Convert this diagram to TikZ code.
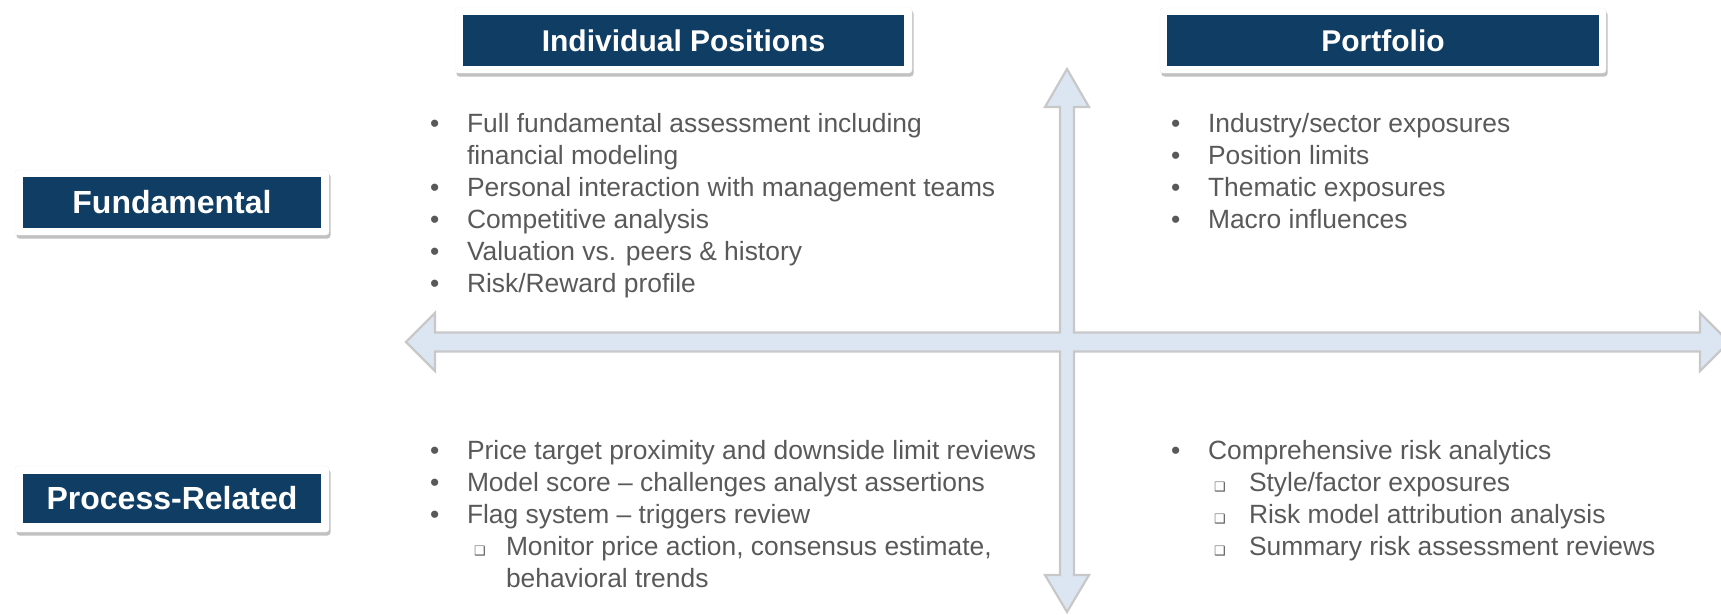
\documentclass[tikz,border=0pt]{standalone}
\usepackage{fontspec}
\setmainfont{Liberation Sans}
\newfontfamily\djv{DejaVu Sans}
\usetikzlibrary{shadows}
\definecolor{hdr}{HTML}{0F3D63}
\definecolor{txt}{HTML}{595959}
\definecolor{arrfill}{HTML}{DCE6F2}
\definecolor{arrline}{HTML}{C8C8C8}
\begin{document}
\begin{tikzpicture}[x=1pt,y=-1pt,
  frame/.style={rectangle, fill=white, draw=black!6, rounded corners=3pt, inner sep=0pt, outer sep=0pt,
    drop shadow={shadow xshift=1.5pt, shadow yshift=-3.5pt, opacity=0.35, fill=black!70}},
  hdrbox/.style={rectangle, fill=hdr, text=white, inner sep=0pt, outer sep=0pt, font=\fontsize{30}{36}\selectfont\bfseries},
  sidebox/.style={hdrbox, font=\fontsize{32}{38}\selectfont\bfseries},
  line/.style={anchor=base west, inner sep=0pt, outer sep=0pt, text=txt, font=\fontsize{26.4}{32}\selectfont},
  bul/.style={line},
  sq/.style={anchor=base west, inner sep=0pt, outer sep=0pt, text=txt, font=\djv\fontsize{13}{14}\selectfont},
  cross/.style={fill=arrfill, draw=arrline, line width=2.2pt, line join=miter}
]
\useasboundingbox (0,0) rectangle (1721,614);

% cross arrows
\draw[cross] (406,342) -- (435,313) -- (435,332.5) -- (1060,332.5) -- (1060,107) -- (1045,107) -- (1067,69)
  -- (1089,107) -- (1074,107) -- (1074,332.5) -- (1700,332.5) -- (1700,313) -- (1729,342) -- (1700,371)
  -- (1700,351.5) -- (1074,351.5) -- (1074,575) -- (1089,575) -- (1067,612) -- (1045,575) -- (1060,575)
  -- (1060,351.5) -- (435,351.5) -- (435,371) -- cycle;

% header boxes
\node[frame, minimum width=457pt, minimum height=66pt] (ipf) at (683.5,40) {};
\node[hdrbox, minimum width=441pt, minimum height=51pt] (ip) at (683.5,40.5) {Individual Positions};
\node[frame, minimum width=446pt, minimum height=65pt] (pff) at (1383,40.5) {};
\node[hdrbox, minimum width=432pt, minimum height=51pt] (pf) at (1383,40.5) {Portfolio};
\node[frame, minimum width=314pt, minimum height=65pt] (fuf) at (172,202.5) {};
\node[sidebox, minimum width=298pt, minimum height=51pt] (fu) at (172,202.5) {Fundamental};
\node[frame, minimum width=314pt, minimum height=66pt] (prf) at (172,499) {};
\node[sidebox, minimum width=298pt, minimum height=49pt] (pr) at (172,498.5) {Process-Related};

% top-left
\node[bul] (b11) at (430,132) {•};
\node[line] (t11) at (467,132) {Full fundamental assessment including};
\node[line] (t12) at (467,164) {financial modeling};
\node[bul] (b13) at (430,196) {•};
\node[line] (t13) at (467,196) {Personal interaction with management teams};
\node[bul] (b14) at (430,228) {•};
\node[line] (t14) at (467,228) {Competitive analysis};
\node[bul] (b15) at (430,260) {•};
\node[line] (t15) at (467,260) {Valuation vs. peers \& history};
\node[bul] (b16) at (430,292) {•};
\node[line] (t16) at (467,292) {Risk/Reward profile};

% top-right
\node[bul] (b21) at (1171,132) {•};
\node[line] (t21) at (1208,132) {Industry/sector exposures};
\node[bul] (b22) at (1171,164) {•};
\node[line] (t22) at (1208,164) {Position limits};
\node[bul] (b23) at (1171,196) {•};
\node[line] (t23) at (1208,196) {Thematic exposures};
\node[bul] (b24) at (1171,228) {•};
\node[line] (t24) at (1208,228) {Macro influences};

% bottom-left
\node[bul] (b31) at (430,459) {•};
\node[line] (t31) at (467,459) {Price target proximity and downside limit reviews};
\node[bul] (b32) at (430,491) {•};
\node[line] (t32) at (467,491) {Model score – challenges analyst assertions};
\node[bul] (b33) at (430,523) {•};
\node[line] (t33) at (467,523) {Flag system – triggers review};
\node[sq] (s34) at (474,555) {❑};
\node[line] (t34) at (506,555) {Monitor price action, consensus estimate,};
\node[line] (t35) at (506,587) {behavioral trends};

% bottom-right
\node[bul] (b41) at (1171,459) {•};
\node[line] (t41) at (1208,459) {Comprehensive risk analytics};
\node[sq] (s42) at (1214,491) {❑};
\node[line] (t42) at (1249,491) {Style/factor exposures};
\node[sq] (s43) at (1214,523) {❑};
\node[line] (t43) at (1249,523) {Risk model attribution analysis};
\node[sq] (s44) at (1214,555) {❑};
\node[line] (t44) at (1249,555) {Summary risk assessment reviews};
\end{tikzpicture}
\end{document}
